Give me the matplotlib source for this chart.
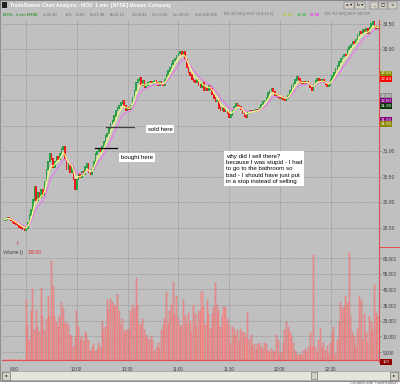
import numpy as np
import pandas as pd
import matplotlib.pyplot as plt
from matplotlib.patches import Rectangle

W, H = 400, 386
FONT = ['Liberation Sans', 'DejaVu Sans']
plt.rcParams['font.family'] = FONT

# last bars of the prior session, then today's 1-min closes from 9:30
PREV_CLOSES = [29.66, 29.68, 29.70, 29.69, 29.66, 29.62, 29.60, 29.57, 29.55, 29.52,
               29.50, 29.48, 29.46]
CLOSES = [
    29.50, 29.60, 29.75, 29.85, 30.05, 30.30, 30.05, 30.20, 30.10, 30.25,
    30.15, 30.40, 30.65, 30.80, 30.95, 30.85, 30.70, 30.80, 30.90, 30.85,
    30.95, 31.05, 31.10, 30.85, 30.65, 30.75, 30.60, 30.70, 30.45, 30.25,
    30.45, 30.55, 30.50, 30.60, 30.55, 30.70, 30.75, 30.60, 30.55, 30.65,
    30.80, 30.95, 31.00, 31.05, 31.00, 31.10, 31.20, 31.30, 31.35, 31.45,
    31.55, 31.60, 31.70, 31.80, 31.85, 31.90, 31.95, 32.00, 31.90, 31.80,
    31.85, 31.82, 31.90, 32.05, 32.20, 32.35, 32.40, 32.45, 32.30, 32.38,
    32.25, 32.30, 32.35, 32.37, 32.33, 32.36, 32.38, 32.34, 32.30, 32.36,
    32.32, 32.30, 32.40, 32.50, 32.58, 32.65, 32.72, 32.78, 32.82, 32.88,
    32.92, 32.95, 32.90, 32.95, 32.80, 32.65, 32.55, 32.50, 32.42, 32.38,
    32.35, 32.40, 32.30, 32.25, 32.35, 32.20, 32.25, 32.20, 32.28, 32.22,
    32.12, 32.05, 31.98, 32.00, 31.85, 31.80, 31.85, 31.78, 31.80, 31.75,
    31.68, 31.72, 31.80, 31.88, 31.94, 31.90, 31.88, 31.82, 31.75, 31.70,
    31.68, 31.75, 31.80, 31.78, 31.80, 31.79, 31.82, 31.80, 31.85, 31.92,
    31.98, 32.00, 32.05, 32.15, 32.20, 32.22, 32.18, 32.10, 32.12, 32.06,
    32.05, 32.08, 32.02, 32.00, 32.05, 32.10, 32.20, 32.28, 32.33, 32.40,
    32.46, 32.42, 32.36, 32.33, 32.36, 32.34, 32.37, 32.33, 32.25, 32.20,
    32.30, 32.38, 32.42, 32.40, 32.38, 32.40, 32.36, 32.32, 32.28, 32.30,
    32.40, 32.48, 32.55, 32.62, 32.68, 32.75, 32.82, 32.86, 32.90, 32.88,
    33.00, 33.05, 33.10, 33.15, 33.12, 33.20, 33.28, 33.35, 33.32, 33.38,
    33.35, 33.40, 33.32, 33.42, 33.50, 33.55, 33.45, 33.40, 33.42,
]
PREV_VOLUME_K = [0.8, 0.8, 0.8, 0.8, 0.8, 0.8, 0.8, 0.8, 0.8, 0.8, 0.8, 0.8, 0.8]
VOLUME_K = [
    39, 22, 13, 31, 45,
    19, 32, 21, 18, 46, 28, 19, 26, 41, 28,
    63, 47, 28,
    24, 21, 28, 37, 33, 23, 24, 22, 16, 15, 8, 14,
    31, 21, 13,
    15, 12, 18, 16, 13, 6, 8, 10, 6, 7, 11, 8,
    25, 19, 21, 38, 32, 39, 37, 35, 34, 42, 31, 22, 26, 17, 19,
    19, 20, 31, 35, 33, 52, 35, 23, 22, 26, 19, 16,
    14, 13, 15, 12, 6, 8, 11, 7, 19, 22, 27, 43,
    23, 31, 35, 50, 29, 41, 26, 22, 21, 38, 28, 23, 30, 25, 18, 35, 29, 21, 31,
    31, 43, 34, 22, 38, 29, 20, 29, 34, 49, 35, 31, 21, 28, 34, 33, 26, 22, 10, 21,
    20, 15, 19, 12, 20, 18, 17, 14, 30, 13, 16, 9, 10, 7, 10, 11, 9, 7, 11, 10,
    6, 5, 7, 6, 5, 16, 13, 4, 5, 11, 19, 24, 21, 18, 15, 11, 6, 4, 3, 4,
    3, 6, 7, 5, 8, 17, 8, 67, 8, 5, 13, 20, 8, 11, 6, 9, 4, 11, 17, 21,
    4, 13, 24, 37, 33, 34, 41, 36, 68, 28, 18, 15, 9, 20, 41, 38, 13, 29, 18, 11,
    28, 24, 19, 48, 30, 28,
]

PRICE_GRID = [29.5, 30.0, 30.5, 31.0, 31.5, 32.0, 32.5, 33.0, 33.5]
PRICE_LABELS = [29.5, 30.0, 30.5, 31.0, 33.0, 33.5]
VOL_TICKS = [5000, 15000, 25000, 35000, 45000, 55000, 65000]
TIME_POS = [-7, 30, 60, 90, 120, 150, 180]
TIME_LABELS = ['9:00', '10:00', '10:30', '11:00', '11:30', '12:00', '12:30']
GRID_MIN = [0, 30, 60, 90, 120, 150, 180]

BOUGHT_PRICE, BOUGHT_SPAN = 31.07, (41, 54)
SOLD_PRICE, SOLD_SPAN = 31.48, (47, 64)

# indicator value flags on the price scale: text, price, colour
VALUE_FLAGS = [('32.54', 32.53, '#8a8a00'), ('32.44', 32.42, '#ff0000'),
               ('32.09', 32.09, '#8c8c8c'), ('32.00', 31.99, '#800080'),
               ('31.90', 31.89, '#0a3a0a'), ('31.65', 31.62, '#800080'),
               ('31.55', 31.54, '#8a8a00')]

BG = '#c0c0c0'
TXT = '#404040'


def px_rect(x0, y0, x1, y1):
    return [x0 / W, 1 - y1 / H, (x1 - x0) / W, (y1 - y0) / H]


fig = plt.figure(figsize=(W / 100, H / 100), dpi=100)
fig.patch.set_facecolor('white')

# window chrome drawn in pixel coordinates
bg = fig.add_axes([0, 0, 1, 1])
bg.add_patch(Rectangle((0, 0), W, 381, fc=BG, ec='#808080', lw=0.6))
grad = np.linspace(0, 1, 256).reshape(1, -1)
tb_cmap = plt.matplotlib.colors.LinearSegmentedColormap.from_list('tb', ['#0a246a', '#a6caf0'])
bg.imshow(grad, extent=(0, W, 10, 0), aspect='auto', cmap=tb_cmap)
bg.set_xlim(0, W)
bg.set_ylim(H, 0)
bg.axis('off')
bg.add_patch(Rectangle((2, 2), 5, 6, fc='#202020', ec='none'))
bg.text(10, 5.2, 'TradeStation Chart Analysis - MOS  1 min  [NYSE] Mosaic Company',
        color='white', fontsize=3.6, fontweight='bold', va='center')
for x0, w, lab in [(344, 10, 'a ▾'), (355, 10, 'b ▾'), (370, 8, '_'), (379, 8, '□'), (388, 9, '×')]:
    bg.add_patch(Rectangle((x0, 1.5), w, 7, fc='#d4d0c8', ec='#606060', lw=0.3))
    bg.text(x0 + w / 2, 5.2, lab, fontsize=3.2, ha='center', va='center', color='black',
            family=['DejaVu Sans'])

# info line
info = [('MOS - 1 min NYSE', 3, '#008000'), ('L=31.90', 43, '#707070'), ('1.05', 65, '#707070'),
        ('3.16%', 75, '#707070'), ('B=31.90', 90, '#707070'), ('A=32.15', 110, '#707070'),
        ('O=29.41', 132, '#707070'), ('Hi=33.65', 152, '#707070'), ('Lo=29.40', 173, '#707070'),
        ('V=8,840,396', 195, '#707070'), ('RS-TD SDQ BUY (9,4,13,2)', 224, '#707070'),
        ('31.90', 283, '#b8c800'), ('31.90', 297, '#10b010'), ('31.90', 310, '#ff00ff'),
        ('RS-TD SDQ BUY SETUP', 325, '#707070')]
for s, x, c in info:
    bg.text(x, 14.5, s, color=c, fontsize=2.9, va='center')

# scroll bar + footer
bg.add_patch(Rectangle((2, 371), 396, 9, fc='#e6e4dc', ec='#909090', lw=0.4))
for x0 in (2, 390):
    bg.add_patch(Rectangle((x0, 371.5), 8, 8, fc='#d4d0c8', ec='#606060', lw=0.4))
bg.text(6, 375.5, '◂', fontsize=3, ha='center', va='center', family=['DejaVu Sans'])
bg.text(394, 375.5, '▸', fontsize=3, ha='center', va='center', family=['DejaVu Sans'])
bg.add_patch(Rectangle((311, 372), 6, 7, fc='#d4d0c8', ec='#606060', lw=0.4))
bg.text(398, 383.5, 'Created with TradeStation', fontsize=3.0, color='#606060',
        ha='right', va='center')
bg.plot([379, 400], [247, 247], color='#e05050', lw=0.7)
bg.add_patch(Rectangle((380, 359), 12, 6, fc='#8b0000', ec='none'))
bg.text(386, 362, '100', color='white', fontsize=3.0, ha='center', va='center')

# data panels
ax_p = fig.add_axes(px_rect(2, 20, 379, 247))
ax_v = fig.add_axes(px_rect(2, 247, 379, 362), sharex=ax_p)

closes = np.array(PREV_CLOSES + CLOSES)
x_all = np.arange(len(closes)) - len(PREV_CLOSES)
opens = np.r_[closes[0], closes[:-1]]
bottoms = np.minimum(opens, closes) - 0.015
heights = np.abs(closes - opens) + 0.03
colors = np.where(closes >= opens, '#2aa048', '#ee1c1c')

for ax in (ax_p, ax_v):
    ax.set_facecolor(BG)
    for side in ('left', 'top', 'bottom'):
        ax.spines[side].set_visible(False)
    ax.spines['right'].set_color('#e05050')
    ax.spines['right'].set_linewidth(0.8)
    for m in GRID_MIN:
        ax.axvline(m, color='#7a7a7a', lw=0.5, ls=(0, (1, 1.5)), zorder=0)

for p in PRICE_GRID:
    ax_p.axhline(p, color='#7a7a7a', lw=0.5, ls=(0, (1, 1.5)), zorder=0)
for v in VOL_TICKS:
    ax_v.axhline(v, color='#7a7a7a', lw=0.5, ls=(0, (1, 1.5)), zorder=0)

ax_p.bar(x_all, heights, bottom=bottoms, width=0.95, color=colors, lw=0, zorder=2)
s = pd.Series(closes)
ax_p.plot(x_all, s.ewm(span=10).mean(), color='#e878e8', lw=0.8, zorder=3)
ax_p.plot(x_all, s.ewm(span=5).mean(), color='#ffff80', lw=0.8, zorder=3)

ax_p.set_xlim(-14.2, 208.6)
ax_p.set_ylim(29.127, 33.578)
ax_p.yaxis.tick_right()
ax_p.set_yticks(PRICE_LABELS, [f'{p:.2f}' for p in PRICE_LABELS])
ax_p.tick_params(axis='y', length=1.5, width=0.4, pad=1.2, labelsize=3.5,
                 colors='#606060', labelcolor=TXT)
ax_p.tick_params(axis='x', bottom=False, labelbottom=False)

for txt, p, c in VALUE_FLAGS:
    ax_p.text(1.004, p, txt, transform=ax_p.get_yaxis_transform(), fontsize=3.2,
              color='white', va='center', ha='left',
              bbox=dict(boxstyle='square,pad=0.15', fc=c, ec='none'))

# trade markers and notes
ax_p.plot(BOUGHT_SPAN, [BOUGHT_PRICE, BOUGHT_PRICE], color='black', lw=0.9, zorder=4)
ax_p.plot(SOLD_SPAN, [SOLD_PRICE, SOLD_PRICE], color='#404040', lw=0.9, zorder=4)
note = dict(boxstyle='square,pad=0.3', fc='white', ec='none')
ax_p.text(72, 31.44, 'sold here', fontsize=4.3, va='center', bbox=note, zorder=5)
ax_p.text(56, 30.88, 'bought here', fontsize=4.3, va='center', bbox=note, zorder=5)
ax_p.text(118, 30.96, 'why did I sell there?\nbecause I was stupid - I had\n'
          'to go to the bathroom so\nbad - I should have just put\n'
          'in a stop instead of selling', fontsize=4.4, va='top', linespacing=1.35,
          bbox=dict(boxstyle='square,pad=0.35', fc='white', ec='none'), zorder=5)
ax_p.text(-5.5, 29.2, 'f.', color='#d03030', fontsize=3.5, va='center')

# volume panel
x_prev = np.arange(-len(PREV_VOLUME_K), 0)
x_sess = np.arange(len(VOLUME_K))
ax_v.bar(x_prev, np.array(PREV_VOLUME_K) * 1000, width=0.6, color='#f09090', lw=0)
ax_v.bar(x_sess, np.array(VOLUME_K) * 1000, width=0.6, color='#f4a0a0',
         edgecolor='#e06464', lw=0.3)
ax_v.axhline(0, color='#e05050', lw=0.8)
ax_v.set_ylim(-1300, 72000)
ax_v.yaxis.tick_right()
ax_v.set_yticks(VOL_TICKS, [f'{v:,}' for v in VOL_TICKS])
ax_v.tick_params(axis='y', length=1.5, width=0.4, pad=1.2, labelsize=3.3,
                 colors='#606060', labelcolor=TXT)
ax_v.set_xticks(TIME_POS, TIME_LABELS)
ax_v.tick_params(axis='x', length=0, pad=3.5, labelsize=3.3, labelcolor=TXT)
ax_v.text(0.003, 0.975, 'Volume ()', transform=ax_v.transAxes, fontsize=3.3,
          va='top', color=TXT)
ax_v.text(0.067, 0.975, '100.00', transform=ax_v.transAxes, fontsize=3.3,
          va='top', color='#e03030')

plt.savefig('out.png', dpi=100)
